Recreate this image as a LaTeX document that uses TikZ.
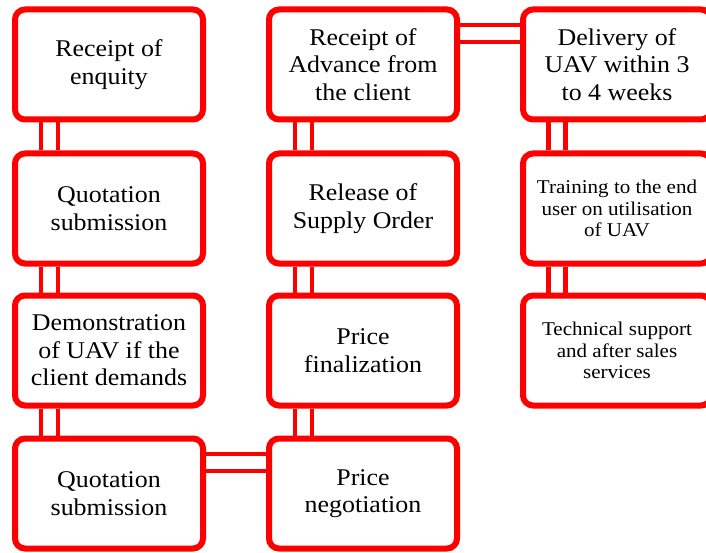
\documentclass[tikz,border=0pt]{standalone}
\usepackage{fontspec}
\setmainfont{Liberation Serif}[FakeStretch=1.08]
\usetikzlibrary{calc,backgrounds}
\definecolor{boxred}{RGB}{255,0,0}
\tikzset{
  stage/.style={draw=boxred, fill=white, line width=6pt, rounded corners=10pt,
    minimum width=188pt, minimum height=110pt, inner sep=0pt,
    align=center, text=black, font=\fontsize{24}{27.5}\selectfont},
  smalltext/.style={font=\fontsize{19.5}{21.5}\selectfont},
  link/.style={draw=boxred, line width=4.5pt, double=white, double distance=12.5pt}
}
\begin{document}
\begin{tikzpicture}[x=1pt,y=-1pt]
\useasboundingbox (0,0) rectangle (706,553);
% first column
\node[stage] (a1) at (109,64.5) {Receipt of\\enquity};
\node[stage] (a2) at (109,208.5) {Quotation\\submission};
\node[stage] (a3) at (109,350.5) {Demonstration\\of UAV if the\\client demands};
\node[stage] (a4) at (109,493.5) {Quotation\\submission};
% second column
\node[stage] (b1) at (363,64.5) {Receipt of\\Advance from\\the client};
\node[stage] (b2) at (363,208.5) {Release of\\Supply Order};
\node[stage] (b3) at (363,350.5) {Price\\finalization};
\node[stage] (b4) at (363,493.5) {Price\\negotiation};
% third column
\node[stage] (c1) at (617,64.5) {Delivery of\\UAV within 3\\to 4 weeks};
\node[stage, smalltext] (c2) at (617,208.5) {Training to the end\\user on utilisation\\of UAV};
\node[stage, smalltext] (c3) at (617,350.5) {Technical support\\and after sales\\services};
% double links, kept behind the boxes
\begin{scope}[on background layer]
\draw[link] ($(a1.south west)+(37.5,0)$) -- ($(a2.north west)+(37.5,0)$);
\draw[link] ($(a2.south west)+(37.5,0)$) -- ($(a3.north west)+(37.5,0)$);
\draw[link] ($(a3.south west)+(37.5,0)$) -- ($(a4.north west)+(37.5,0)$);
\draw[link] ($(a4.north east)+(0,27)$) -- ($(b4.north west)+(0,27)$);
\draw[link] ($(b4.north west)+(37.5,0)$) -- ($(b3.south west)+(37.5,0)$);
\draw[link] ($(b3.north west)+(37.5,0)$) -- ($(b2.south west)+(37.5,0)$);
\draw[link] ($(b2.north west)+(37.5,0)$) -- ($(b1.south west)+(37.5,0)$);
\draw[link] ($(b1.north east)+(0,27)$) -- ($(c1.north west)+(0,27)$);
\draw[link] ($(c1.south west)+(37,0)$) -- ($(c2.north west)+(37,0)$);
\draw[link] ($(c2.south west)+(37,0)$) -- ($(c3.north west)+(37,0)$);
\end{scope}
\end{tikzpicture}
\end{document}
